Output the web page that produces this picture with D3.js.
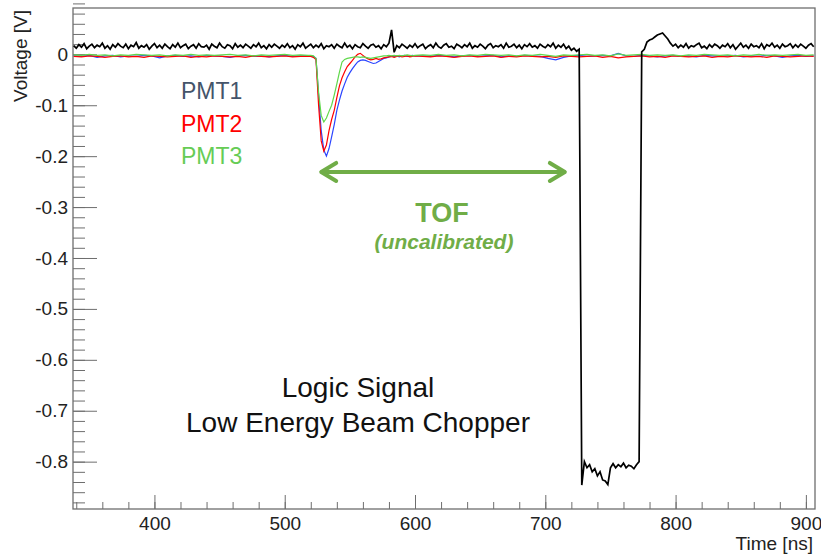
<!DOCTYPE html>
<html>
<head>
<meta charset="utf-8">
<script src="https://cdn.jsdelivr.net/npm/d3@7/dist/d3.min.js"></script>
<style>
  body { margin: 0; background: #fff; }
  svg { display: block; font-family: "Liberation Sans", Arial, sans-serif; }
</style>
</head>
<body>
<svg id="chart" width="821" height="556"></svg>
<script>
// logic signal (black), sampled every 2 ns from 338 ns, values in mV
var blackT0 = 338, blackDt = 2;
var blackMV = [
  17,12,19,14,21,11,16,20,13,18,  15,22,12,17,10,19,14,21,16,13,
  20,11,18,15,23,12,17,14,19,10,  16,21,13,18,12,20,15,11,19,14,
  22,13,17,20,11,16,19,12,21,15,  14,18,10,20,16,13,22,15,12,19,
  17,11,21,14,18,13,20,16,12,19,  15,22,13,17,11,19,14,20,16,12,
  18,14,21,13,17,10,19,15,22,12,  16,20,13,18,14,21,11,17,15,19,
  12,20,16,13,22,14,18,11,19,15,  13,21,16,12,18,20,14,17,11,19,
  15,22,48,4,17,13,20,16,12,18,   14,21,13,17,20,11,16,19,13,22,
  15,12,18,21,14,16,11,20,17,13,  19,15,22,12,17,14,20,16,11,18,
  21,13,17,15,19,12,22,14,16,20,  13,18,11,19,15,21,14,17,12,20,
  16,13,19,15,22,12,18,14,20,11,  16,8,12,6,10,-846,-800,-812,-806,-820,
  -814,-828,-820,-836,-838,-845,-812,-804,-812,-806,
  -810,-803,-812,-807,-809,-814,-806,-800,5,10,
  24,28,30,34,38,40,42,36,30,22,  16,20,13,18,14,21,12,17,15,19,
  22,13,16,11,19,14,20,17,12,18,  15,21,13,19,10,16,22,14,18,12,
  20,15,17,13,21,11,19,16,22,14,  18,12,20,15,17,21,13,19,14,20,
  16,12,18,21,15
];

// PMT time grid: coarse baseline, fine around the pulse
var pmtTime = d3.range(338, 519, 6).concat(d3.range(520, 601, 2), d3.range(606, 907, 6));

var pmt1MV = [
  -3,-4,-2,-6,-3,-2,-5,-3,-4,-2, -3,-7,-3,-2,-4,-3,-5,-2,-3,-4, -6,-3,-2,-4,-3,-5,-3,-2,-4,-3, -3,
  -3,-4,-8,-80,-150,-188,-200,-185,-162,-138, -110,-90,-72,-58,-45,-36,-28,-21,-15,-12,
  -11,-12,-14,-16,-18,-17,-14,-11,-8,-7, -5,-4,-4,-3,-5,-3,-2,-4,-3,-2, -3,
  -3,-4,-2,-3,-5,-3,-2,-4,-3,-2, -5,-3,-4,-2,-3,-4,-8,-11,-6,-3, -2,-4,-3,-2,-3,2,-3,-4,-2,-3,
  -5,-3,-2,-4,-3,-5,-2,-3,-4,-3, -2,-5,-3,-4,-2,-3,-6,-3,-2,-4, -3
];
var pmt2MV = [
  -4,-5,-3,-4,-6,-4,-3,-5,-4,-6, -3,-4,-5,-4,-3,-6,-4,-5,-3,-4, -5,-4,-6,-3,-4,-5,-4,-3,-5,-4, -4,
  -4,-6,-10,-100,-170,-190,-178,-150,-128,-110, -85,-62,-46,-34,-24,-18,-12,-5,0,2,
  -2,-6,-9,-11,-10,-8,-10,-9,-7,-6, -5,-4,-6,-4,-3,-5,-4,-3,-5,-4, -3,
  -4,-5,-3,-4,-6,-4,-3,-5,-4,-3, -6,-4,-5,-3,-4,-5,-4,-6,-3,-4, -5,-4,-3,-6,-4,-7,-5,-4,-3,-5,
  -4,-6,-3,-4,-5,-4,-3,-6,-4,-5, -3,-4,-5,-4,-6,-3,-4,-5,-4,-3, -4
];
var pmt3MV = [
  -1,-2,0,-2,-1,-3,-1,-2,0,-1, -2,-1,-3,-1,-2,0,-2,-1,-2,-1, 0,-2,-1,-3,-1,-2,-1,0,-2,-1, -2,
  -2,-3,-8,-75,-120,-133,-125,-112,-100,-80, -58,-35,-15,-10,-8,-7,-6,-5,-5,-6,
  -5,-6,-7,-8,-7,-6,-5,-4,-3,-3, -2,-3,-2,-3,-2,-3,-2,-1,-2,-3, -2,
  -1,-2,0,-2,-1,-3,-1,-2,0,-1, -2,-1,-3,-1,-2,0,-2,-4,-1,-2, -1,0,-2,-1,-3,1,-2,-1,0,-2,
  -1,-2,-1,-3,-1,-2,0,-1,-2,-1, -3,-1,-2,0,-2,-1,-2,-1,0,-2, -1
];

var xTicks = [400, 500, 600, 700, 800, 900];
var yTicks = [0, -0.1, -0.2, -0.3, -0.4, -0.5, -0.6, -0.7, -0.8];
var legendNames = ["PMT1", "PMT2", "PMT3"];
var tofSpan = [528, 715];   // ns, ends of the TOF arrow
var tofLevel = -0.231;      // V

var plotL = 73, plotR = 815, plotT = 8, plotB = 509;
var axisColor = "#6e6e6e";
var traceColors = ["#2b45ff", "#ff0000", "#5fd84a"];
var legendColors = ["#44546a", "#ff0000", "#66cc55"];
var tofColor = "#70ad47";

var x = d3.scaleLinear().domain([337.5, 907]).range([plotL, plotR]);
var y = d3.scaleLinear().domain([-0.893, 0.091]).range([plotB, plotT]);

var svg = d3.select("#chart");

// minor ticks
svg.append("g")
    .attr("transform", "translate(" + plotL + ",0)")
    .call(d3.axisLeft(y).tickValues(d3.range(-88, 90, 2).map(function(d) { return d / 100; }))
        .tickSizeInner(-12).tickSizeOuter(0).tickFormat(""))
    .call(function(g) { g.select(".domain").remove(); g.selectAll("line").attr("stroke", axisColor); });
svg.append("g")
    .attr("transform", "translate(0," + plotB + ")")
    .call(d3.axisBottom(x).tickValues(d3.range(340, 907, 20))
        .tickSizeInner(-7).tickSizeOuter(0).tickFormat(""))
    .call(function(g) { g.select(".domain").remove(); g.selectAll("line").attr("stroke", axisColor); });

// major ticks + labels
svg.append("g")
    .attr("transform", "translate(" + plotL + ",0)")
    .call(d3.axisLeft(y).tickValues(yTicks).tickSizeInner(-24).tickSizeOuter(0).tickPadding(5)
        .tickFormat(function(d) { return d === 0 ? "0" : String(+d.toFixed(1)); }))
    .call(function(g) {
        g.select(".domain").remove();
        g.selectAll("line").attr("stroke", axisColor);
        g.selectAll("text").attr("fill", "#222").style("font-size", "19px")
            .style("font-family", "Liberation Sans, Arial, sans-serif");
    });
svg.append("g")
    .attr("transform", "translate(0," + plotB + ")")
    .call(d3.axisBottom(x).tickValues(xTicks).tickSizeInner(-14).tickSizeOuter(0).tickPadding(8))
    .call(function(g) {
        g.select(".domain").remove();
        g.selectAll("line").attr("stroke", axisColor);
        g.selectAll("text").attr("fill", "#222").style("font-size", "19px")
            .style("font-family", "Liberation Sans, Arial, sans-serif");
    });

// frame
svg.append("rect")
    .attr("x", plotL).attr("y", plotT)
    .attr("width", plotR - plotL).attr("height", plotB - plotT)
    .attr("fill", "none").attr("stroke", axisColor).attr("stroke-width", 1.3);

// axis titles
svg.append("text")
    .attr("transform", "translate(27,10) rotate(-90)")
    .attr("text-anchor", "end")
    .attr("fill", "#222").style("font-size", "19px")
    .text("Voltage [V]");
svg.append("text")
    .attr("x", 813).attr("y", 550)
    .attr("text-anchor", "end")
    .attr("fill", "#222").style("font-size", "19px")
    .text("Time [ns]");

// traces
var plot = svg.append("g");
var pmtLine = d3.line()
    .x(function(d, i) { return x(pmtTime[i]); })
    .y(function(d) { return y(d / 1000); });
[pmt1MV, pmt2MV, pmt3MV].forEach(function(series, k) {
    plot.append("path")
        .datum(series)
        .attr("fill", "none")
        .attr("stroke", traceColors[k])
        .attr("stroke-width", 1.2)
        .attr("d", pmtLine);
});
plot.append("path")
    .datum(blackMV)
    .attr("fill", "none")
    .attr("stroke", "#000")
    .attr("stroke-width", 1.7)
    .attr("d", d3.line()
        .x(function(d, i) { return x(blackT0 + i * blackDt); })
        .y(function(d) { return y(d / 1000); }));

// legend labels
legendNames.forEach(function(name, k) {
    svg.append("text")
        .attr("x", 181).attr("y", 99 + k * 32.5)
        .attr("fill", legendColors[k])
        .style("font-size", "23px")
        .text(name);
});

// TOF arrow
var ay = y(tofLevel), ax0 = x(tofSpan[0]), ax1 = x(tofSpan[1]);
var arrow = svg.append("g").attr("stroke", tofColor).attr("stroke-width", 4)
    .attr("fill", "none").attr("stroke-linecap", "round").attr("stroke-linejoin", "round");
arrow.append("line").attr("x1", ax0 + 1).attr("y1", ay).attr("x2", ax1 - 1).attr("y2", ay);
arrow.append("path").attr("d", "M" + (ax0 + 15) + "," + (ay - 9) + "L" + ax0 + "," + ay + "L" + (ax0 + 15) + "," + (ay + 9));
arrow.append("path").attr("d", "M" + (ax1 - 15) + "," + (ay - 9) + "L" + ax1 + "," + ay + "L" + (ax1 - 15) + "," + (ay + 9));

svg.append("text")
    .attr("x", 442).attr("y", 222)
    .attr("text-anchor", "middle")
    .attr("fill", tofColor).style("font-size", "27px").style("font-weight", "bold")
    .text("TOF");
svg.append("text")
    .attr("x", 444).attr("y", 249)
    .attr("text-anchor", "middle")
    .attr("fill", tofColor).style("font-size", "21px").style("font-weight", "bold").style("font-style", "italic")
    .text("(uncalibrated)");

// logic signal note
svg.append("text")
    .attr("x", 358).attr("y", 397)
    .attr("text-anchor", "middle")
    .attr("fill", "#111").style("font-size", "28px")
    .text("Logic Signal");
svg.append("text")
    .attr("x", 358).attr("y", 432)
    .attr("text-anchor", "middle")
    .attr("fill", "#111").style("font-size", "28px")
    .text("Low Energy Beam Chopper");
</script>
</body>
</html>
